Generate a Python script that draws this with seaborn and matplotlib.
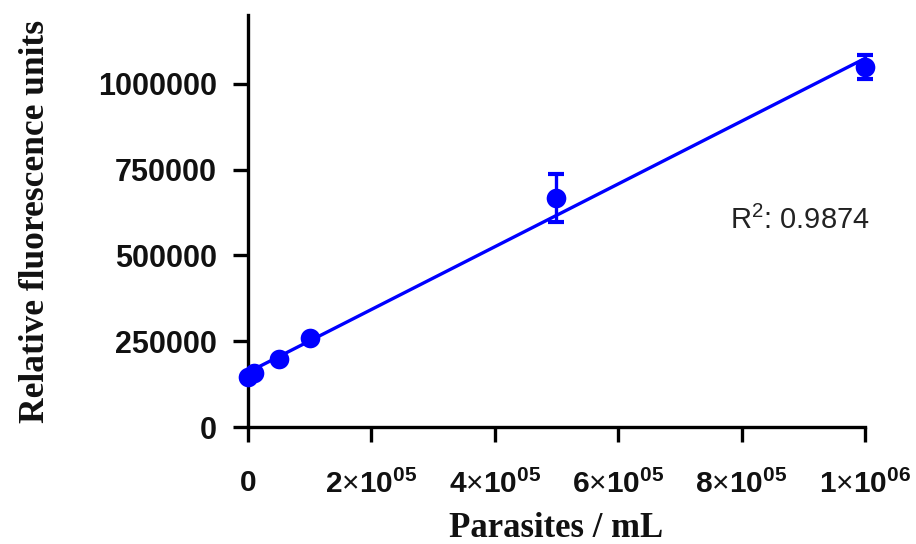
import numpy as np
import pandas as pd
import matplotlib
matplotlib.use("Agg")
import matplotlib.pyplot as plt
import seaborn as sns

# Parasite density vs. relative fluorescence (mean ± SD)
parasites = [0, 1e4, 5e4, 1e5, 5e5, 1e6]
rfu_mean = [145000, 157000, 198000, 259000, 667000, 1048000]
rfu_sd = [8000, 6000, 7000, 6000, 70000, 35000]
r_squared = "0.9874"

x_ticks = [0, 2e5, 4e5, 6e5, 8e5, 1e6]
x_tick_labels = [r"$\mathbf{0}$",
                 r"$\mathbf{2}\mathrm{×}\mathbf{10}^{\mathbf{05}}$",
                 r"$\mathbf{4}\mathrm{×}\mathbf{10}^{\mathbf{05}}$",
                 r"$\mathbf{6}\mathrm{×}\mathbf{10}^{\mathbf{05}}$",
                 r"$\mathbf{8}\mathrm{×}\mathbf{10}^{\mathbf{05}}$",
                 r"$\mathbf{1}\mathrm{×}\mathbf{10}^{\mathbf{06}}$"]
y_ticks = [0, 250000, 500000, 750000, 1000000]
y_tick_labels = ["0", "250000", "500000", "750000", "1000000"]

sns.set_theme(style="ticks")
plt.rcParams["font.family"] = ["Liberation Sans", "DejaVu Sans"]
plt.rcParams["mathtext.fontset"] = "custom"
plt.rcParams["mathtext.rm"] = "Liberation Sans"
plt.rcParams["mathtext.it"] = "Liberation Sans:italic"
plt.rcParams["mathtext.bf"] = "Liberation Sans:bold"

df = pd.DataFrame({"parasites": parasites, "rfu": rfu_mean, "sd": rfu_sd})
blue = "#0000FF"

fig = plt.figure(figsize=(9.16, 5.44), dpi=100)
ax = fig.add_axes([0.2707, 0.215, 0.6736, 0.7574])

# linear fit through the means
sns.regplot(data=df, x="parasites", y="rfu", ax=ax, scatter=False, ci=None,
            truncate=True, color=blue, line_kws={"linewidth": 2.4, "clip_on": False})
ax.errorbar(df["parasites"], df["rfu"], yerr=df["sd"], fmt="none", ecolor=blue,
            elinewidth=2.4, capsize=6, capthick=3, clip_on=False, zorder=3)
sns.scatterplot(data=df, x="parasites", y="rfu", ax=ax, color=blue, s=200,
                edgecolor=blue, linewidth=0, clip_on=False, zorder=4)

ax.set_xlim(0, 1e6)
ax.set_ylim(0, 1.2e6)
ax.set_xticks(x_ticks)
ax.set_xticklabels(x_tick_labels)
ax.set_yticks(y_ticks)
ax.set_yticklabels(y_tick_labels)

for side in ("top", "right"):
    ax.spines[side].set_visible(False)
for side in ("left", "bottom"):
    ax.spines[side].set_linewidth(2.4)
    ax.spines[side].set_color("black")
ax.tick_params(axis="both", direction="out", length=10.5, width=2.4, colors="black")
ax.tick_params(axis="y", labelsize=22, pad=12)
ax.tick_params(axis="x", labelsize=21.5, pad=20)
for lab in ax.get_yticklabels():
    lab.set_fontweight("bold")
    lab.set_color("#111111")
for lab in ax.get_xticklabels():
    lab.set_color("#111111")

ax.set_xlabel("Parasites / mL", fontsize=25, fontweight="bold",
              family=["Liberation Serif"], color="#111111", labelpad=10)
ax.set_ylabel("Relative fluorescence units", fontsize=25.5, fontweight="bold",
              family=["Liberation Serif"], color="#111111", labelpad=33)

ax.text(0.781, 0.502, r"R$\mathregular{^2}$: " + r_squared, transform=ax.transAxes,
        fontsize=21, color="#222222", va="center", family=["Liberation Sans"])

fig.savefig("out.png", dpi=100)
